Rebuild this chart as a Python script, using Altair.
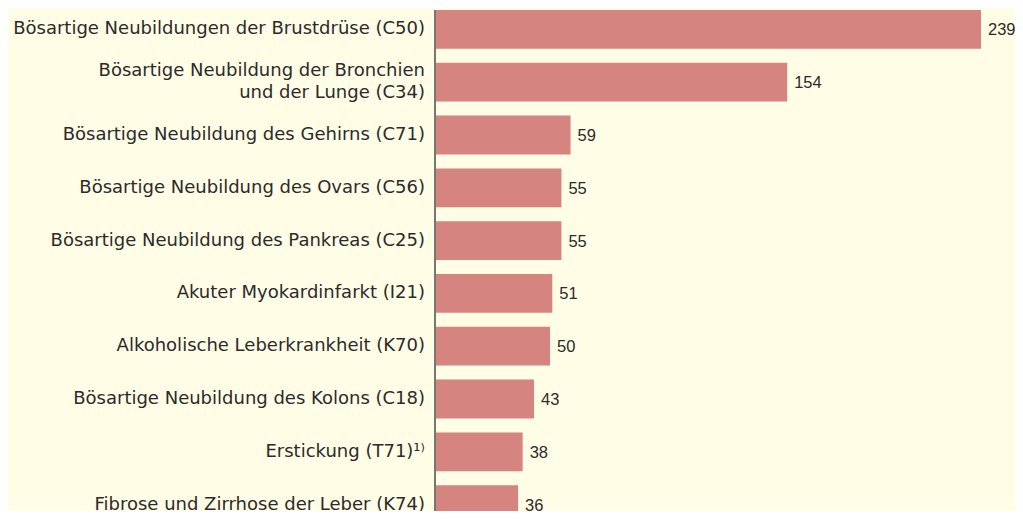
import altair as alt
import pandas as pd

categories = [
    "Bösartige Neubildungen der Brustdrüse (C50)",
    "Bösartige Neubildung der Bronchien\nund der Lunge (C34)",
    "Bösartige Neubildung des Gehirns (C71)",
    "Bösartige Neubildung des Ovars (C56)",
    "Bösartige Neubildung des Pankreas (C25)",
    "Akuter Myokardinfarkt (I21)",
    "Alkoholische Leberkrankheit (K70)",
    "Bösartige Neubildung des Kolons (C18)",
    "Erstickung (T71)¹⁾",
    "Fibrose und Zirrhose der Leber (K74)",
]
values = [239, 154, 59, 55, 55, 51, 50, 43, 38, 36]

df = pd.DataFrame({
    "cat": categories,
    "val": values,
    "idx": list(range(len(values))),
    "multi": ["\n" in c for c in categories],
})

BG = "#FFFDE6"
BAR = "#D6847F"
TXT = "#2B2B2B"
FONT = "DejaVu Sans"

y_enc = alt.Y("idx:O", axis=None,
              scale=alt.Scale(range=[0, 514], paddingInner=0.265, paddingOuter=0))
x_scale = alt.Scale(domain=[0, 239], nice=False, zero=True)

base = alt.Chart(df)

bars = base.mark_bar(color=BAR).encode(
    x=alt.X("val:Q", scale=x_scale, axis=None),
    y=y_enc,
)

vals = base.mark_text(align="left", baseline="middle", dx=7, dy=1,
                      font="Liberation Sans", fontSize=16.5, color=TXT).encode(
    x=alt.X("val:Q", scale=x_scale, axis=None),
    y=y_enc,
    text=alt.Text("val:Q"),
)

labels_single = base.transform_filter("!datum.multi").mark_text(
    align="right", baseline="middle", font=FONT, fontSize=18, color=TXT).encode(
    x=alt.value(-11),
    y=y_enc,
    text="cat:N",
)

labels_multi = base.transform_filter("datum.multi").mark_text(
    align="right", baseline="middle", lineBreak="\n", lineHeight=22, dy=-11,
    font=FONT, fontSize=18, color=TXT).encode(
    x=alt.value(-11),
    y=y_enc,
    text="cat:N",
)

axis_line = alt.Chart(pd.DataFrame({"a": [0]})).mark_rule(
    color="#4A4A4A", strokeWidth=1.5).encode(
    x=alt.value(-1), y=alt.value(0), y2=alt.value(530)
)

chart = alt.layer(bars, vals, labels_single, labels_multi, axis_line).properties(
    width=545, height=501,
    background=BG,
    padding={"left": 428, "top": 2, "right": 34, "bottom": 0},
    autosize=alt.AutoSizeParams(type="none"),
).configure_view(stroke=None)

chart.save("out.html", embed_options={"renderer": "svg", "actions": False})
